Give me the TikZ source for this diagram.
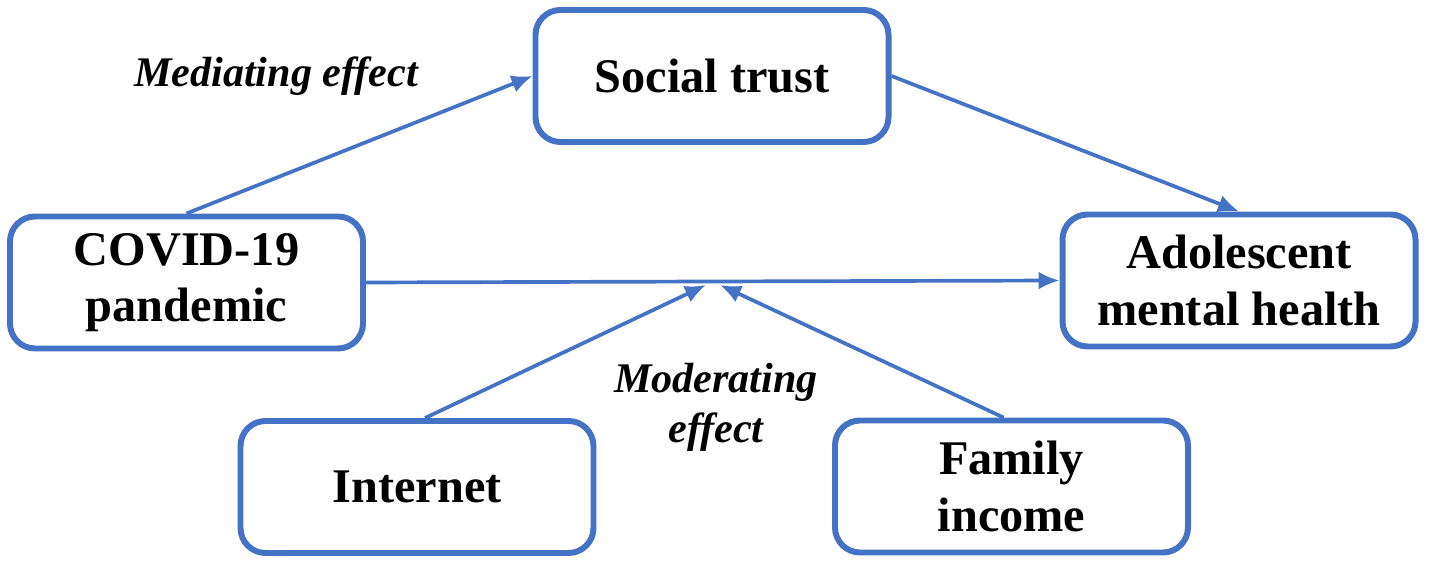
\documentclass[tikz,border=0pt]{standalone}
\usepackage{fontspec}
\setmainfont{Liberation Serif}
\usetikzlibrary{arrows.meta}
\definecolor{myblue}{RGB}{68,114,196}
\tikzset{
  >=latex,
  box/.style={draw=myblue,line width=3.4pt,rounded corners=0.5cm,fill=white,
    minimum width=7.06cm,minimum height=2.64cm,align=center,inner sep=2pt,
    font=\bfseries\fontsize{27.5}{32}\selectfont},
  label effect/.style={align=center,font=\bfseries\itshape\fontsize{24}{28.5}\selectfont},
  connect arrow/.style={-{Latex[length=0.42cm,width=0.36cm]},line width=2.1pt,myblue}
}
\begin{document}
\begin{tikzpicture}
  \useasboundingbox (0,0) rectangle (28.58,11.38);
  \node[box] (trust) at (14.24,9.86) {Social trust};
  \node[box] (covid) at (3.73,5.73) {COVID-19\\pandemic};
  \node[box] (adol) at (24.78,5.77) {Adolescent\\mental health};
  \node[box] (net) at (8.34,1.64) {Internet};
  \node[box] (income) at (20.23,1.65) {Family\\income};
  \coordinate (mod a) at (14.12,5.68);
  \coordinate (mod b) at (14.40,5.68);

  \draw[connect arrow] (covid.north) -- (trust.west);
  \draw[connect arrow] (trust.east) -- (adol.north);
  \draw[connect arrow] (covid.east) -- (adol.west);
  \draw[connect arrow] ([xshift=0.16cm]net.north) -- (mod a);
  \draw[connect arrow] ([xshift=-0.16cm]income.north) -- (mod b);

  \node[label effect] (mediating) at (5.52,9.86) {Mediating effect};
  \node[label effect] (moderating) at (14.32,3.24) {Moderating\\effect};
\end{tikzpicture}
\end{document}
